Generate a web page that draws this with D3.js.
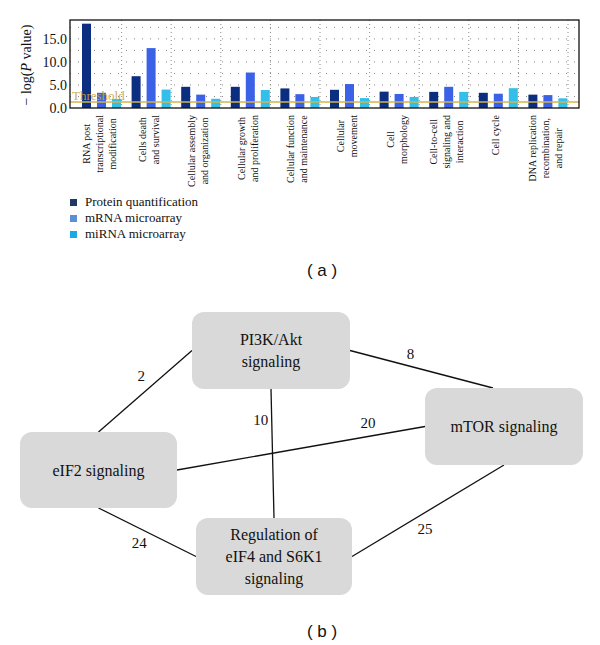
<!DOCTYPE html>
<html>
<head>
<meta charset="utf-8">
<script src="https://cdn.jsdelivr.net/npm/d3@7/dist/d3.min.js"></script>
<style>
  body { margin: 0; background: #fff; }
  svg { display: block; }
</style>
</head>
<body>
<svg id="chart" width="600" height="645"></svg>
<script>
// ---- panel (a) data ----
var categories = [
  ["RNA post", "transcriptional", "modification"],
  ["Cells death", "and survival"],
  ["Cellular assembly", "and organization"],
  ["Cellular growth", "and proliferation"],
  ["Cellular function", "and maintenance"],
  ["Cellular", "movement"],
  ["Cell", "morphology"],
  ["Cell-to-cell", "signaling and", "interaction"],
  ["Cell cycle"],
  ["DNA replication", "recombination,", "and repair"]
];
var seriesNames = ["Protein quantification", "mRNA microarray", "miRNA microarray"];
var protein = [18.3, 6.9, 4.6, 4.6, 4.25, 3.95, 3.55, 3.5, 3.3, 2.9];
var mrna    = [3.3, 13.0, 2.9, 7.7, 3.0, 5.2, 3.05, 4.6, 3.1, 2.8];
var mirna   = [1.95, 4.0, 2.0, 3.9, 2.4, 2.15, 2.4, 3.5, 4.3, 2.1];
var yTicks = [0, 5, 10, 15];
var threshold = 1.3;

// ---- panel (b) data ----
var nodes = [
  {id: "pi3k", lines: ["PI3K/Akt", "signaling"]},
  {id: "mtor", lines: ["mTOR signaling"]},
  {id: "eif2", lines: ["eIF2 signaling"]},
  {id: "reg",  lines: ["Regulation of", "eIF4 and S6K1", "signaling"]}
];
var edges = [
  {source: "eif2", target: "pi3k", value: 2},
  {source: "pi3k", target: "mtor", value: 8},
  {source: "pi3k", target: "reg",  value: 10},
  {source: "eif2", target: "mtor", value: 20},
  {source: "eif2", target: "reg",  value: 24},
  {source: "mtor", target: "reg",  value: 25}
];

var svg = d3.select("#chart");
var serif = "'Liberation Serif', 'Times New Roman', serif";

/* ================= panel (a) ================= */
var plot = {left: 70, right: 579, top: 20, bottom: 108};
var barColors = ["#0c2e80", "#3b61e6", "#33bfea"];
var legendColors = ["#1f3864", "#5b8fd8", "#18a9e8"];

var y = d3.scaleLinear().domain([0, 19.1]).range([plot.bottom, plot.top]);
var x = d3.scaleBand().domain(d3.range(categories.length)).range([72, 568]).padding(0);
var xs = d3.scaleBand().domain([0, 1, 2]).range([10, 49]).paddingInner(0.4);

var a = svg.append("g");

// dotted grid
a.selectAll("line.hgrid")
  .data(d3.range(2.5, 19, 2.5))
  .enter().append("line")
  .attr("x1", plot.left).attr("x2", plot.right)
  .attr("y1", function(d) { return y(d); }).attr("y2", function(d) { return y(d); })
  .style("stroke", "#8a8a8a").style("stroke-width", 1)
  .style("stroke-dasharray", "1,7");

a.selectAll("line.vgrid")
  .data(d3.range(1, categories.length + 1))
  .enter().append("line")
  .attr("x1", function(d) { return x.range()[0] + d * x.step(); })
  .attr("x2", function(d) { return x.range()[0] + d * x.step(); })
  .attr("y1", plot.top).attr("y2", plot.bottom)
  .style("stroke", "#8a8a8a").style("stroke-width", 1)
  .style("stroke-dasharray", "1,3");

// bars
var series = [protein, mrna, mirna];
series.forEach(function(vals, s) {
  a.append("g").selectAll("rect")
    .data(vals)
    .enter().append("rect")
    .attr("x", function(d, i) { return x(i) + xs(s); })
    .attr("width", xs.bandwidth())
    .attr("y", function(d) { return y(d); })
    .attr("height", function(d) { return y(0) - y(d); })
    .style("fill", barColors[s]);
});

// threshold
a.append("line")
  .attr("x1", plot.left).attr("x2", plot.right)
  .attr("y1", y(threshold)).attr("y2", y(threshold))
  .style("stroke", "#d6b44a").style("stroke-width", 1.6);
a.append("text").attr("x", 72).attr("y", 100)
  .text("Threshold")
  .style("font-family", serif).style("font-size", "13px")
  .style("fill", "#c9a53a").style("opacity", 0.9);

// frame
a.append("rect")
  .attr("x", plot.left).attr("y", plot.top)
  .attr("width", plot.right - plot.left).attr("height", plot.bottom - plot.top)
  .style("fill", "none").style("stroke", "#111").style("stroke-width", 1.3);

// y axis
var yAxis = a.append("g")
  .attr("transform", "translate(" + plot.left + ",0)")
  .call(d3.axisLeft(y).tickValues(yTicks).tickFormat(d3.format(".1f")).tickSize(0).tickPadding(3));
yAxis.select(".domain").remove();
yAxis.selectAll("text")
  .style("font-family", serif).style("font-size", "14px").style("fill", "#111");

var ylab = a.append("text")
  .attr("transform", "translate(31,65) rotate(-90)")
  .attr("text-anchor", "middle")
  .style("font-family", serif).style("font-size", "14px").style("fill", "#111");
ylab.append("tspan").text("\u2212 log(");
ylab.append("tspan").style("font-style", "italic").text("P");
ylab.append("tspan").text(" value)");

// category labels (rotated), lines centred on the longest one
categories.forEach(function(lines, i) {
  var cx = x(i) + 27;
  var n = lines.length;
  var g = a.append("g");
  var texts = lines.map(function(line) {
    return g.append("text")
      .attr("text-anchor", "middle")
      .attr("dominant-baseline", "central")
      .text(line)
      .style("font-family", serif).style("font-size", "10px").style("fill", "#111");
  });
  var maxLen = d3.max(texts, function(t) { return t.node().getComputedTextLength(); });
  var cy = 115 + maxLen / 2;
  texts.forEach(function(t, k) {
    var lx = cx + (k - (n - 1) / 2) * 13;
    t.attr("transform", "translate(" + lx + "," + cy + ") rotate(-90)");
  });
});

// legend
seriesNames.forEach(function(name, s) {
  a.append("rect").attr("x", 70).attr("y", 199 + s * 16)
    .attr("width", 7).attr("height", 7).style("fill", legendColors[s]);
  a.append("text").attr("x", 85).attr("y", 206 + s * 16)
    .text(name)
    .style("font-family", serif).style("font-size", "13px").style("fill", "#111");
});

a.append("text").attr("x", 322).attr("y", 276)
  .attr("text-anchor", "middle").text("( a )")
  .style("font-family", "'Liberation Sans', Arial, sans-serif").style("font-size", "17px").style("fill", "#111");

/* ================= panel (b) ================= */
var boxes = {
  pi3k: {x: 192, y: 312, w: 158, h: 77},
  mtor: {x: 425, y: 388, w: 158, h: 77},
  eif2: {x: 20,  y: 432, w: 157, h: 76},
  reg:  {x: 196, y: 518, w: 156, h: 77}
};
// which side of each box an edge leaves / enters, and where its number sits
var edgeLayout = {
  "eif2-pi3k": {s: "top", t: "left", lt: 0.5, dx: -4, dy: -15},
  "pi3k-mtor": {s: "right", t: "top", lt: 0.5, dx: -11, dy: -15},
  "pi3k-reg":  {s: "bottom", t: "top", lt: 0.24, dx: -11, dy: 0},
  "eif2-mtor": {s: "right", t: "left", lt: 0.77, dx: 0, dy: -14},
  "eif2-reg":  {s: "bottom", t: "left", lt: 0.5, dx: -8, dy: 11},
  "mtor-reg":  {s: "bottom", t: "right", lt: 0.5, dx: -3, dy: 18}
};
function anchor(b, side) {
  if (side === "top") return [b.x + b.w / 2, b.y];
  if (side === "bottom") return [b.x + b.w / 2, b.y + b.h];
  if (side === "left") return [b.x, b.y + b.h / 2];
  return [b.x + b.w, b.y + b.h / 2];
}
var shift = {"pi3k-mtor": {t: [-11, 0]}};

var b = svg.append("g");
edges.forEach(function(e) {
  var key = e.source + "-" + e.target;
  var L = edgeLayout[key];
  var p0 = anchor(boxes[e.source], L.s);
  var p1 = anchor(boxes[e.target], L.t);
  if (shift[key] && shift[key].s) { p0 = [p0[0] + shift[key].s[0], p0[1] + shift[key].s[1]]; }
  if (shift[key] && shift[key].t) { p1 = [p1[0] + shift[key].t[0], p1[1] + shift[key].t[1]]; }
  b.append("line")
    .attr("x1", p0[0]).attr("y1", p0[1]).attr("x2", p1[0]).attr("y2", p1[1])
    .style("stroke", "#111").style("stroke-width", 1.3);
  var lx = p0[0] + (p1[0] - p0[0]) * L.lt + L.dx;
  var ly = p0[1] + (p1[1] - p0[1]) * L.lt + L.dy;
  b.append("text").attr("x", lx).attr("y", ly)
    .attr("text-anchor", "middle").attr("dominant-baseline", "central")
    .text(e.value)
    .style("font-family", serif).style("font-size", "15px").style("fill", "#111");
});

nodes.forEach(function(n) {
  var bx = boxes[n.id];
  b.append("rect")
    .attr("x", bx.x).attr("y", bx.y).attr("width", bx.w).attr("height", bx.h)
    .attr("rx", 12).attr("ry", 12)
    .style("fill", "#d9d9d9");
  var cnt = n.lines.length;
  n.lines.forEach(function(line, k) {
    b.append("text")
      .attr("x", bx.x + bx.w / 2)
      .attr("y", bx.y + bx.h / 2 + (k - (cnt - 1) / 2) * 22)
      .attr("text-anchor", "middle").attr("dominant-baseline", "central")
      .text(line)
      .style("font-family", serif).style("font-size", "16px").style("fill", "#111");
  });
});

b.append("text").attr("x", 322).attr("y", 637)
  .attr("text-anchor", "middle").text("( b )")
  .style("font-family", "'Liberation Sans', Arial, sans-serif").style("font-size", "17px").style("fill", "#111");
</script>
</body>
</html>
